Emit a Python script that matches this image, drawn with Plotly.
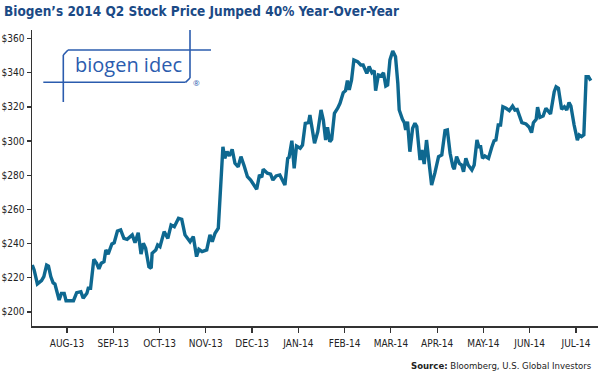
import plotly.graph_objects as go

# Month positions (0 = AUG-13 tick, 11 = JUL-14 tick) and closing price in USD
month_pos = [-0.75, -0.71, -0.64, -0.55, -0.50, -0.44, -0.40, -0.35, -0.30, -0.26,
             -0.17, -0.12, -0.06, -0.02, 0.07, 0.14, 0.21, 0.30, 0.35, 0.43,
             0.46, 0.51, 0.58, 0.64, 0.69, 0.74, 0.80, 0.84, 0.89, 0.97,
             1.02, 1.09, 1.16, 1.23, 1.30, 1.41, 1.47, 1.54, 1.60, 1.65,
             1.70, 1.77, 1.82, 1.84, 1.92, 1.96, 2.01, 2.10, 2.18, 2.25,
             2.32, 2.41, 2.48, 2.55, 2.66, 2.73, 2.80, 2.85, 2.92, 3.02,
             3.09, 3.14, 3.20, 3.27, 3.37, 3.41, 3.46, 3.51, 3.57, 3.63,
             3.70, 3.76, 3.83, 3.90, 3.97, 4.10, 4.16, 4.21, 4.24, 4.33,
             4.40, 4.45, 4.52, 4.60, 4.71, 4.77, 4.80, 4.86, 4.91, 4.96,
             5.04, 5.09, 5.15, 5.22, 5.25, 5.30, 5.35, 5.42, 5.49, 5.54,
             5.59, 5.63, 5.68, 5.72, 5.78, 5.85, 5.90, 5.97, 6.02, 6.06,
             6.10, 6.15, 6.20, 6.28, 6.35, 6.40, 6.48, 6.53, 6.59, 6.64,
             6.67, 6.73, 6.79, 6.84, 6.89, 6.93, 6.98, 7.04, 7.10, 7.15,
             7.18, 7.25, 7.29, 7.32, 7.36, 7.41, 7.47, 7.52, 7.56, 7.63,
             7.67, 7.72, 7.77, 7.81, 7.88, 7.95, 8.03, 8.10, 8.17, 8.22,
             8.28, 8.34, 8.37, 8.42, 8.48, 8.53, 8.57, 8.62, 8.67, 8.75,
             8.80, 8.86, 8.90, 8.94, 8.98, 9.03, 9.11, 9.18, 9.23, 9.27,
             9.32, 9.37, 9.42, 9.49, 9.56, 9.63, 9.68, 9.73, 9.83, 9.92,
             9.99, 10.04, 10.08, 10.14, 10.17, 10.22, 10.29, 10.35, 10.45, 10.53,
             10.57, 10.62, 10.69, 10.75, 10.80, 10.85, 10.89, 10.96, 11.03, 11.07,
             11.12, 11.17, 11.22, 11.27, 11.32]

price = [227.5, 224.6, 216.4, 218.3, 220.7, 227.5, 226.9, 220.7, 217.1, 216.4,
         207.0, 210.9, 210.9, 206.6, 206.6, 206.6, 211.3, 211.9, 208.0, 210.9,
         213.9, 213.9, 230.8, 228.5, 225.2, 228.5, 229.4, 236.3, 233.9, 239.8,
         240.5, 247.4, 248.0, 243.1, 242.5, 245.1, 240.6, 246.4, 233.9, 240.2,
         237.3, 226.5, 225.6, 234.3, 236.3, 239.2, 238.2, 247.0, 243.1, 250.9,
         249.9, 254.8, 254.2, 245.1, 241.1, 244.1, 232.4, 236.7, 235.3, 236.3,
         245.1, 241.1, 246.1, 249.0, 296.7, 289.9, 293.8, 291.3, 295.2, 287.0,
         285.0, 290.9, 285.4, 279.2, 277.2, 271.8, 280.2, 278.8, 283.5, 281.2,
         280.6, 277.2, 279.6, 280.2, 274.3, 289.9, 290.5, 300.2, 284.1, 297.1,
         295.8, 297.7, 310.4, 310.8, 315.3, 306.5, 298.7, 305.5, 318.2, 312.3,
         300.6, 308.1, 299.6, 301.0, 316.3, 319.2, 322.1, 328.3, 329.5, 335.4,
         329.9, 335.8, 347.5, 346.5, 344.5, 344.5, 339.6, 343.6, 340.0, 341.2,
         329.5, 338.7, 338.1, 340.0, 332.2, 332.8, 347.5, 352.7, 349.4, 333.8,
         318.2, 312.8, 310.8, 306.5, 311.4, 293.8, 307.5, 310.4, 308.5, 288.9,
         294.8, 286.6, 300.6, 290.9, 274.3, 281.2, 290.9, 291.9, 306.1, 306.5,
         292.9, 285.0, 283.5, 290.9, 287.0, 286.0, 282.1, 289.9, 286.0, 283.1,
         286.0, 300.6, 296.7, 296.7, 289.9, 291.3, 289.9, 296.4, 300.2, 300.6,
         309.4, 309.4, 320.1, 319.2, 317.8, 320.5, 318.2, 318.5, 310.8, 310.0,
         308.1, 304.9, 310.8, 312.8, 319.8, 313.9, 314.7, 319.2, 315.9, 328.9,
         331.8, 330.9, 318.6, 320.1, 318.2, 322.5, 320.5, 309.4, 300.6, 303.6,
         302.6, 303.6, 337.7, 337.7, 335.4]

month_ticks = [0, 1, 2, 3, 4, 5, 6, 7, 8, 9, 10, 11]
month_labels = ["AUG-13", "SEP-13", "OCT-13", "NOV-13", "DEC-13", "JAN-14",
                "FEB-14", "MAR-14", "APR-14", "MAY-14", "JUN-14", "JUL-14"]
y_ticks = [200, 220, 240, 260, 280, 300, 320, 340, 360]
y_labels = ["$200", "$220", "$240", "$260", "$280", "$300", "$320", "$340", "$360"]

LINE = "#0e6890"
AXIS = "#333333"
LOGO = "#2b5cae"
NARROW = ("Noto Sans Condensed, Liberation Sans Narrow, Arial Narrow, "
          "DejaVu Sans Condensed, sans-serif")

W, H = 600, 375
L, R, T, B = 32, 2, 30, 49
PW, PH = W - L - R, H - T - B


def px(x):
    return (x - L) / PW


def py(y):
    return (H - B - y) / PH


fig = go.Figure()
fig.add_trace(go.Scatter(
    x=month_pos, y=price, mode="lines",
    line=dict(color=LINE, width=3.4, shape="linear"),
    hoverinfo="skip", showlegend=False,
))

logo_shapes = [
    # top line with chamfered corner and left leg
    dict(x0=px(68), y0=py(50), x1=px(211), y1=py(50)),
    dict(x0=px(63.3), y0=py(55), x1=px(68), y1=py(50)),
    dict(x0=px(63.3), y0=py(55), x1=px(63.3), y1=py(102)),
    # bottom line with chamfered corner and right leg
    dict(x0=px(43.3), y0=py(82.3), x1=px(185.5), y1=py(82.3)),
    dict(x0=px(185.5), y0=py(82.3), x1=px(190), y1=py(78)),
    dict(x0=px(190), y0=py(78), x1=px(190), y1=py(30)),
]
for s in logo_shapes:
    fig.add_shape(type="line", xref="paper", yref="paper",
                  line=dict(color=LOGO, width=1.6), layer="above", **s)

fig.add_annotation(x=px(128.5), y=py(65), xref="paper", yref="paper",
                   text="biogen idec", showarrow=False,
                   font=dict(family="Open Sans, Noto Sans, sans-serif", size=20, color=LOGO),
                   xanchor="center", yanchor="middle")
fig.add_annotation(x=px(196), y=py(82), xref="paper", yref="paper",
                   text="®", showarrow=False,
                   font=dict(family="Open Sans, sans-serif", size=8, color=LOGO),
                   xanchor="center", yanchor="middle")

fig.add_annotation(x=px(594), y=py(365), xref="paper", yref="paper",
                   text="<b>Source:</b> Bloomberg, U.S. Global Investors",
                   showarrow=False, xanchor="right", yanchor="middle",
                   font=dict(family=NARROW, size=9.5, color="#222222"))

fig.update_layout(
    width=W, height=H,
    margin=dict(l=L, r=R, t=T, b=B, autoexpand=False),
    paper_bgcolor="white", plot_bgcolor="white",
    title=dict(text="<b>Biogen’s 2014 Q2 Stock Price Jumped 40% Year-Over-Year</b>",
               x=4 / W, xanchor="left", xref="container",
               y=1 - 11 / H, yanchor="middle", yref="container",
               font=dict(family=NARROW, size=13.5, color="#1b4a86")),
    xaxis=dict(range=[-0.756, 11.476], tickvals=month_ticks, ticktext=month_labels,
               showgrid=False, zeroline=False, showline=True, linecolor=AXIS, linewidth=1.5,
               ticks="outside", ticklen=5, tickwidth=1.2, tickcolor=AXIS,
               ticklabelstandoff=2, automargin=False,
               tickfont=dict(family=NARROW, size=10, color="#222222"), fixedrange=True),
    yaxis=dict(range=[191.8, 365.0], tickvals=y_ticks, ticktext=y_labels,
               showgrid=False, zeroline=False, showline=True, linecolor=AXIS, linewidth=1.5,
               ticks="outside", ticklen=4, tickwidth=1.2, tickcolor=AXIS, automargin=False,
               tickfont=dict(family=NARROW, size=10, color="#222222"), fixedrange=True),
)

fig.write_html("out.html", config={"displayModeBar": False, "staticPlot": True},
               post_script="document.body.style.margin='0';document.body.style.padding='0';")
